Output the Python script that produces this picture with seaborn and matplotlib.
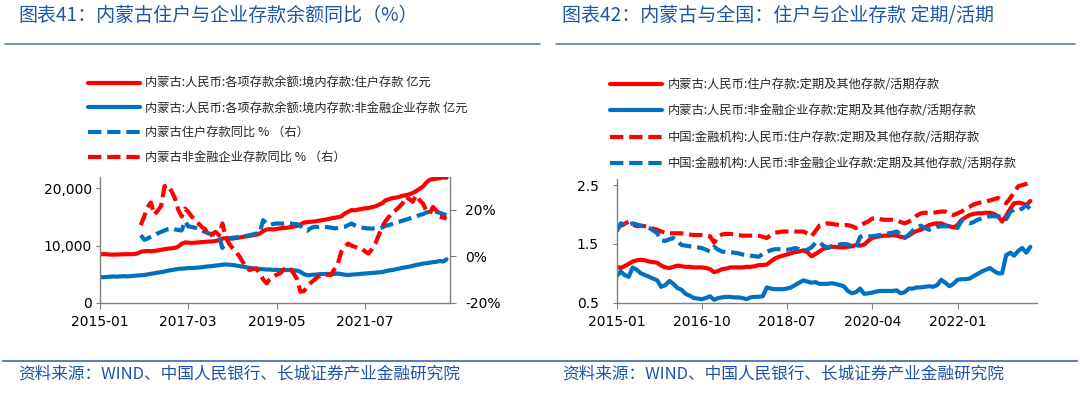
import pandas as pd
import matplotlib
matplotlib.use("Agg")
import matplotlib.pyplot as plt
import matplotlib.dates as mdates
from matplotlib.lines import Line2D
from matplotlib.ticker import FuncFormatter
import seaborn as sns

sns.set_style("white")
plt.rcParams['font.family'] = ['DejaVu Sans', 'Noto Sans CJK SC']
plt.rcParams['axes.unicode_minus'] = False

# ---------------------------- #
# 1. DATA (monthly, 2015-01 .. 2023-07)
# ---------------------------- #
months = pd.date_range("2015-01-01", periods=103, freq="MS")
yoy_months = months[12:]

# left chart: balances (亿元)
im_hh_bal = [8450, 8500, 8480, 8420, 8400, 8430, 8450, 8470, 8500, 8480, 8520, 8600,
             8900, 9000, 9050, 9000, 9050, 9150, 9250, 9350, 9450, 9500, 9600, 9800,
             10300, 10550, 10500, 10450, 10500, 10550, 10600, 10650, 10700, 10700, 10800, 10900,
             11200, 11300, 11250, 11200, 11300, 11400, 11500, 11600, 11700, 11800, 11900, 12100,
             12500, 12800, 12850, 12800, 12900, 13000, 13050, 13100, 13200, 13300, 13450, 13700,
             14000, 14100, 14150, 14200, 14300, 14400, 14500, 14600, 14750, 14850, 14950, 15100,
             15600, 15900, 16200, 16150, 16300, 16400, 16500, 16550, 16700, 16850, 17100, 17400,
             17900, 18100, 18300, 18350, 18500, 18700, 18800, 18950, 19200, 19500, 19900, 20300,
             21000, 21500, 21600, 21700, 21800, 21900, 21850]
im_ent_bal = [4500, 4450, 4500, 4550, 4600, 4550, 4600, 4650, 4600, 4650, 4700, 4750,
              4800, 4850, 4950, 5050, 5150, 5250, 5350, 5450, 5600, 5700, 5800, 5900,
              5950, 6000, 6050, 6050, 6100, 6150, 6200, 6300, 6350, 6400, 6500, 6550,
              6650, 6700, 6650, 6600, 6500, 6400, 6300, 6200, 6100, 6000, 5950, 5900,
              5850, 5800, 5800, 5750, 5750, 5700, 5750, 5700, 5700, 5650, 5600, 5400,
              5000, 4800, 4850, 4900, 4950, 5000, 5000, 5050, 5000, 5050, 5100, 5000,
              4900, 4850, 4900, 4950, 5000, 5050, 5100, 5150, 5200, 5250, 5300, 5350,
              5500, 5650, 5700, 5850, 5950, 6100, 6200, 6300, 6450, 6600, 6700, 6850,
              6900, 7000, 7100, 7150, 7300, 7200, 7600]
# YoY %, from 2016-01
im_hh_yoy = [9.0, 7.0, 7.5, 8.3, 9.0, 9.8, 10.4, 11.0, 11.6, 11.9, 11.5, 11.2,
             11.0, 15.0, 12.8, 12.5, 12.2, 11.8, 11.0, 10.3, 9.7, 9.4, 9.0, 8.8,
             3.5, 6.0, 7.6, 7.9, 8.0, 8.2, 8.4, 8.6, 9.0, 9.3, 9.7, 10.0,
             15.4, 14.0, 13.3, 13.8, 14.0, 14.0, 13.9, 14.0, 14.0, 13.8, 13.7, 13.0,
             11.5, 10.9, 12.0, 12.6, 12.5, 12.6, 12.6, 12.4, 12.2, 11.9, 12.1, 12.4,
             12.6, 13.3, 14.0, 13.2, 12.6, 12.3, 12.0, 11.9, 11.8, 11.9, 11.9, 12.3,
             13.0, 13.3, 13.8, 14.3, 14.7, 15.2, 15.6, 16.1, 16.6, 17.0, 17.6, 18.0,
             18.7, 19.0, 19.3, 19.0, 18.6, 18.0, 17.6]
im_ent_yoy = [13.3, 17.0, 21.0, 23.0, 17.8, 19.5, 21.5, 30.0, 30.5, 28.0, 25.0, 20.0,
              17.0, 20.4, 19.0, 17.0, 15.5, 14.0, 12.5, 11.5, 8.5, 9.5, 10.4, 9.0,
              14.0, 8.0, 5.4, 3.5, 1.9, 0.0, -2.4, -4.5, -6.0, -5.5, -5.3, -7.4,
              -10.0, -11.7, -10.0, -8.9, -8.0, -7.4, -6.0, -4.6, -5.5, -7.4, -10.0, -15.3,
              -15.0, -13.1, -11.5, -10.3, -9.0, -8.3, -8.1, -8.0, -8.1, -5.5, -3.1, 1.9,
              4.0, 5.4, 4.5, 4.0, 3.5, 3.3, 2.0, 1.1, 3.0, 5.4, 9.0, 12.6,
              15.0, 16.9, 18.5, 19.7, 21.0, 22.6, 25.4, 24.5, 23.3, 26.1, 24.0, 22.6,
              19.5, 18.3, 21.1, 19.5, 16.9, 16.5, 16.1]

# right chart: fixed & other / demand ratios
im_hh_ratio = [1.11, 1.09, 1.12, 1.16, 1.20, 1.22, 1.23, 1.22, 1.20, 1.19, 1.18, 1.13,
               1.10, 1.09, 1.11, 1.13, 1.12, 1.11, 1.11, 1.10, 1.10, 1.10, 1.09, 1.07,
               1.02, 1.04, 1.07, 1.08, 1.10, 1.10, 1.10, 1.10, 1.11, 1.11, 1.12, 1.14,
               1.14, 1.15, 1.20, 1.25, 1.28, 1.30, 1.32, 1.34, 1.36, 1.37, 1.39, 1.36,
               1.29, 1.33, 1.37, 1.42, 1.43, 1.45, 1.45, 1.44, 1.44, 1.45, 1.46, 1.48,
               1.47, 1.49, 1.55, 1.60, 1.62, 1.63, 1.64, 1.64, 1.65, 1.64, 1.62, 1.61,
               1.64, 1.69, 1.72, 1.74, 1.78, 1.82, 1.84, 1.85, 1.85, 1.82, 1.80, 1.78,
               1.82, 1.91, 1.95, 1.99, 2.01, 2.02, 2.02, 2.03, 2.03, 2.01, 1.97, 1.88,
               1.98, 2.10, 2.19, 2.20, 2.19, 2.16, 2.23]
im_ent_ratio = [0.95, 1.03, 0.97, 0.94, 1.10, 1.06, 1.00, 0.97, 0.94, 0.91, 0.88, 0.77,
                0.80, 0.87, 0.82, 0.75, 0.72, 0.65, 0.62, 0.58, 0.57, 0.56, 0.58, 0.61,
                0.55, 0.58, 0.59, 0.60, 0.60, 0.59, 0.59, 0.58, 0.56, 0.59, 0.60, 0.60,
                0.61, 0.76, 0.74, 0.73, 0.73, 0.73, 0.74, 0.76, 0.80, 0.84, 0.88, 0.86,
                0.84, 0.85, 0.82, 0.82, 0.82, 0.83, 0.82, 0.80, 0.78, 0.70, 0.66, 0.68,
                0.74, 0.65, 0.66, 0.67, 0.69, 0.70, 0.70, 0.70, 0.70, 0.71, 0.66, 0.68,
                0.74, 0.74, 0.76, 0.76, 0.77, 0.78, 0.77, 0.80, 0.89, 0.84, 0.78, 0.82,
                0.89, 0.90, 0.90, 0.91, 0.95, 0.99, 1.03, 1.06, 1.09, 1.04, 1.00, 1.00,
                1.31, 1.35, 1.30, 1.38, 1.43, 1.35, 1.45]
cn_hh_ratio = [1.77, 1.81, 1.84, 1.88, 1.83, 1.80, 1.81, 1.80, 1.78, 1.76, 1.74, 1.71,
               1.69, 1.68, 1.68, 1.68, 1.68, 1.67, 1.66, 1.65, 1.65, 1.65, 1.64, 1.63,
               1.52, 1.63, 1.66, 1.67, 1.67, 1.66, 1.65, 1.64, 1.64, 1.64, 1.64, 1.64,
               1.62, 1.60, 1.65, 1.69, 1.70, 1.71, 1.71, 1.71, 1.71, 1.71, 1.71, 1.68,
               1.63, 1.72, 1.81, 1.83, 1.85, 1.84, 1.83, 1.82, 1.82, 1.82, 1.80, 1.77,
               1.80, 1.85, 1.88, 1.93, 1.94, 1.92, 1.91, 1.91, 1.91, 1.90, 1.87, 1.85,
               1.88, 1.92, 1.98, 2.02, 2.03, 2.03, 2.03, 2.04, 2.05, 2.05, 2.02, 1.99,
               2.02, 2.05, 2.10, 2.13, 2.17, 2.19, 2.21, 2.22, 2.24, 2.26, 2.28, 2.24,
               2.19, 2.28, 2.38, 2.48, 2.50, 2.52, 2.55]
cn_ent_ratio = [1.71, 1.85, 1.82, 1.83, 1.85, 1.83, 1.81, 1.79, 1.77, 1.73, 1.68, 1.56,
                1.55, 1.58, 1.60, 1.55, 1.48, 1.47, 1.46, 1.45, 1.44, 1.43, 1.40, 1.37,
                1.45, 1.40, 1.37, 1.36, 1.36, 1.35, 1.34, 1.32, 1.31, 1.30, 1.29, 1.28,
                1.33, 1.37, 1.39, 1.41, 1.41, 1.40, 1.40, 1.41, 1.43, 1.41, 1.38, 1.40,
                1.44, 1.52, 1.53, 1.47, 1.44, 1.46, 1.48, 1.49, 1.50, 1.49, 1.46, 1.44,
                1.62, 1.64, 1.63, 1.63, 1.64, 1.65, 1.66, 1.68, 1.69, 1.71, 1.66, 1.60,
                1.66, 1.73, 1.78, 1.81, 1.77, 1.74, 1.76, 1.79, 1.80, 1.80, 1.80, 1.79,
                1.77, 1.90, 1.88, 1.85, 1.87, 1.91, 1.93, 1.95, 1.97, 1.97, 1.97, 1.96,
                1.92, 2.05, 2.08, 2.07, 2.10, 2.16, 2.09]

left_labels = ["内蒙古:人民币:各项存款余额:境内存款:住户存款 亿元",
               "内蒙古:人民币:各项存款余额:境内存款:非金融企业存款 亿元",
               "内蒙古住户存款同比 % （右）",
               "内蒙古非金融企业存款同比 % （右）"]
right_labels = ["内蒙古:人民币:住户存款:定期及其他存款/活期存款",
                "内蒙古:人民币:非金融企业存款:定期及其他存款/活期存款",
                "中国:金融机构:人民币:住户存款:定期及其他存款/活期存款",
                "中国:金融机构:人民币:非金融企业存款:定期及其他存款/活期存款"]
left_ticks = ["2015-01-01", "2017-03-01", "2019-05-01", "2021-07-01"]
right_ticks = ["2015-01-01", "2016-10-01", "2018-07-01", "2020-04-01", "2022-01-01"]

title_left = "图表41：内蒙古住户与企业存款余额同比（%）"
title_right = "图表42：内蒙古与全国：住户与企业存款 定期/活期"
source = "资料来源：WIND、中国人民银行、长城证券产业金融研究院"

# ---------------------------- #
# 2. STYLE
# ---------------------------- #
RED = "#FF0000"
BLUE = "#0070C0"
DASH = (0, (3.2, 1.4))
LW = 3.0
CJK = ['Noto Sans CJK SC', 'DejaVu Sans']
TITLE_C = "#1F55A5"
RULE_C = "#5F7FB5"
SPINE_C = "#808080"
W, H = 1080, 393

fig = plt.figure(figsize=(W / 100, H / 100), dpi=100)
ax1 = fig.add_axes([100 / W, 1 - 302.7 / H, 350 / W, 125.8 / H])
ax1r = ax1.twinx()
ax2 = fig.add_axes([616.7 / W, 1 - 302.7 / H, 420.3 / W, 123.5 / H])

# left chart
sns.lineplot(x=months, y=im_hh_bal, ax=ax1, color=RED, lw=LW, label=left_labels[0], legend=False)
sns.lineplot(x=months, y=im_ent_bal, ax=ax1, color=BLUE, lw=LW, label=left_labels[1], legend=False)
sns.lineplot(x=yoy_months, y=im_hh_yoy, ax=ax1r, color=BLUE, lw=LW, linestyle=DASH,
             label=left_labels[2], legend=False)
sns.lineplot(x=yoy_months, y=im_ent_yoy, ax=ax1r, color=RED, lw=LW, linestyle=DASH,
             label=left_labels[3], legend=False)

ax1.set_ylim(0, 22000)
ax1r.set_ylim(-20, 34)
ax1.set_yticks([0, 10000, 20000])
ax1.yaxis.set_major_formatter(FuncFormatter(lambda v, p: f"{v:,.0f}"))
ax1r.set_yticks([-20, 0, 20])
ax1r.yaxis.set_major_formatter(FuncFormatter(lambda v, p: f"{v:.0f}%"))
ax1.set_xlim(months[0], pd.Timestamp("2023-08-01"))
ax1.set_xticks(pd.to_datetime(left_ticks))

# right chart
sns.lineplot(x=months, y=im_hh_ratio, ax=ax2, color=RED, lw=LW, label=right_labels[0], legend=False)
sns.lineplot(x=months, y=im_ent_ratio, ax=ax2, color=BLUE, lw=LW, label=right_labels[1], legend=False)
sns.lineplot(x=months, y=cn_hh_ratio, ax=ax2, color=RED, lw=LW, linestyle=DASH,
             label=right_labels[2], legend=False)
sns.lineplot(x=months, y=cn_ent_ratio, ax=ax2, color=BLUE, lw=LW, linestyle=DASH,
             label=right_labels[3], legend=False)
ax2.set_ylim(0.5, 2.6)
ax2.set_yticks([0.5, 1.5, 2.5])
ax2.yaxis.set_major_formatter(FuncFormatter(lambda v, p: f"{v:.1f}"))
ax2.set_xlim(months[0], pd.Timestamp("2023-08-20"))
ax2.set_xticks(pd.to_datetime(right_ticks))

for ax in (ax1, ax1r, ax2):
    ax.set_xlabel("")
    ax.set_ylabel("")
    ax.xaxis.set_major_formatter(mdates.DateFormatter("%Y-%m"))
    for s in ax.spines.values():
        s.set_color(SPINE_C)
        s.set_linewidth(1)
    ax.spines["top"].set_visible(False)

ax1.spines["right"].set_visible(False)
ax1r.spines["left"].set_visible(False)
ax1r.spines["bottom"].set_visible(False)
ax2.spines["right"].set_visible(False)

tick_kw = dict(direction="out", color=SPINE_C, labelsize=10, labelcolor="black")
ax1.tick_params(axis="x", bottom=True, length=4, pad=5, **tick_kw)
ax1.tick_params(axis="y", left=True, length=3, pad=3, **tick_kw)
ax1r.tick_params(axis="y", right=True, length=4, pad=7, **tick_kw)
ax2.tick_params(axis="x", bottom=True, length=4, pad=5, **tick_kw)
ax2.tick_params(axis="y", left=True, length=3, pad=10, **tick_kw)

# legends above each plot
h1, l1 = ax1.get_legend_handles_labels()
h2, l2 = ax1r.get_legend_handles_labels()
fig.legend(h1 + h2, l1 + l2, loc="upper left", bbox_to_anchor=(88 / W, 1 - 77 / H),
           frameon=False, prop={"family": CJK, "size": 8.8}, handlelength=4.25,
           handletextpad=0.45, labelspacing=0.95, borderpad=0, borderaxespad=0)
h3, l3 = ax2.get_legend_handles_labels()
fig.legend(h3, l3, loc="upper left", bbox_to_anchor=(610 / W, 1 - 78 / H),
           frameon=False, prop={"family": CJK, "size": 8.8}, handlelength=4.25,
           handletextpad=0.5, labelspacing=1.1, borderpad=0, borderaxespad=0)

# titles, rules, source
fig.text(18 / W, 1 - 15 / H, title_left, ha="left", va="center", fontsize=13.7,
         color=TITLE_C, family=CJK, style="italic")
fig.text(562 / W, 1 - 15 / H, title_right, ha="left", va="center", fontsize=13.7,
         color=TITLE_C, family=CJK, style="italic")
fig.add_artist(Line2D([5 / W, 540 / W], [1 - 43.5 / H] * 2, color=RULE_C, lw=1.2))
fig.add_artist(Line2D([556 / W, 1075 / W], [1 - 43.5 / H] * 2, color=RULE_C, lw=1.2))
fig.add_artist(Line2D([3 / W, 1077 / W], [1 - 361 / H] * 2, color=RULE_C, lw=1.5))
fig.text(18 / W, 1 - 374 / H, source, ha="left", va="center", fontsize=12,
         color=TITLE_C, family=CJK, style="italic")
fig.text(562 / W, 1 - 374 / H, source, ha="left", va="center", fontsize=12,
         color=TITLE_C, family=CJK, style="italic")

fig.savefig("out.png", dpi=100)
